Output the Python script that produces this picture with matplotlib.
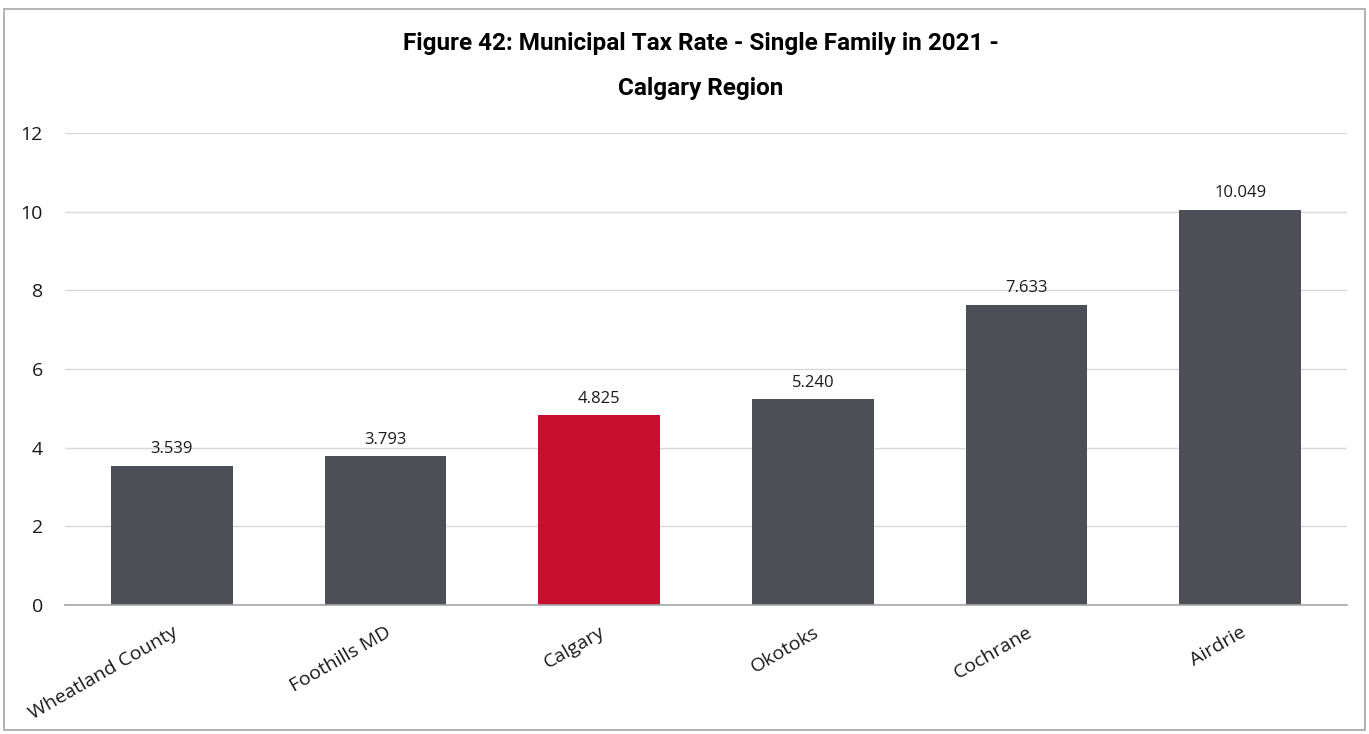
import matplotlib.pyplot as plt
from matplotlib.patches import Rectangle

# values
municipalities = ['Wheatland County', 'Foothills MD', 'Calgary', 'Okotoks', 'Cochrane', 'Airdrie']
tax_rates = [3.539, 3.793, 4.825, 5.240, 7.633, 10.049]
highlight = 'Calgary'
y_ticks = [0, 2, 4, 6, 8, 10, 12]

bar_gray = '#4D4F56'
bar_red = '#C8102E'
colors = [bar_red if m == highlight else bar_gray for m in municipalities]

plt.rcParams['font.family'] = ['Open Sans', 'DejaVu Sans']

fig = plt.figure(figsize=(13.69, 7.34), dpi=100)
ax = fig.add_axes([0.0475, 0.1757, 0.9365, 0.6431])

x = range(len(municipalities))
bars = ax.bar(x, tax_rates, width=0.57, color=colors, zorder=3)

for b, v in zip(bars, tax_rates):
    ax.annotate(f'{v:.3f}', (b.get_x() + b.get_width() / 2, v),
                xytext=(0, 6), textcoords='offset points',
                ha='center', va='bottom', fontsize=12, color='#1a1a1a')

ax.set_xlim(-0.5, len(municipalities) - 0.5)
ax.set_ylim(0, 12)
ax.set_yticks(y_ticks)
ax.tick_params(axis='y', length=0, labelsize=14, pad=16, colors='#1a1a1a')
ax.tick_params(axis='x', length=0, labelsize=14, pad=13, colors='#1a1a1a')
ax.set_xticks(list(x))
ax.set_xticklabels(municipalities, rotation=30, ha='right', rotation_mode='anchor')

ax.grid(axis='y', color='#D9D9D9', linewidth=1, zorder=0)
for s in ['top', 'right', 'left']:
    ax.spines[s].set_visible(False)
ax.spines['bottom'].set_color('#A6A6A6')
ax.spines['bottom'].set_linewidth(1.2)
ax.spines['bottom'].set_zorder(4)

# title: no Calibri here, Roboto is the closest narrow bold
title_font = ['Roboto', 'DejaVu Sans']
fig.text(0.512, 1 - 50 / 734, 'Figure 42: Municipal Tax Rate - Single Family in 2021 -',
         ha='center', va='baseline', fontsize=17.5, fontweight='bold', family=title_font)
fig.text(0.512, 1 - 95 / 734, 'Calgary Region',
         ha='center', va='baseline', fontsize=17.5, fontweight='bold', family=title_font)

# outer frame like the exported chart
fig.patches.append(Rectangle((0.003, 0.005), 0.994, 0.983, transform=fig.transFigure,
                             fill=False, edgecolor='#A6A6A6', linewidth=1.2))

fig.savefig('out.png', dpi=100)
